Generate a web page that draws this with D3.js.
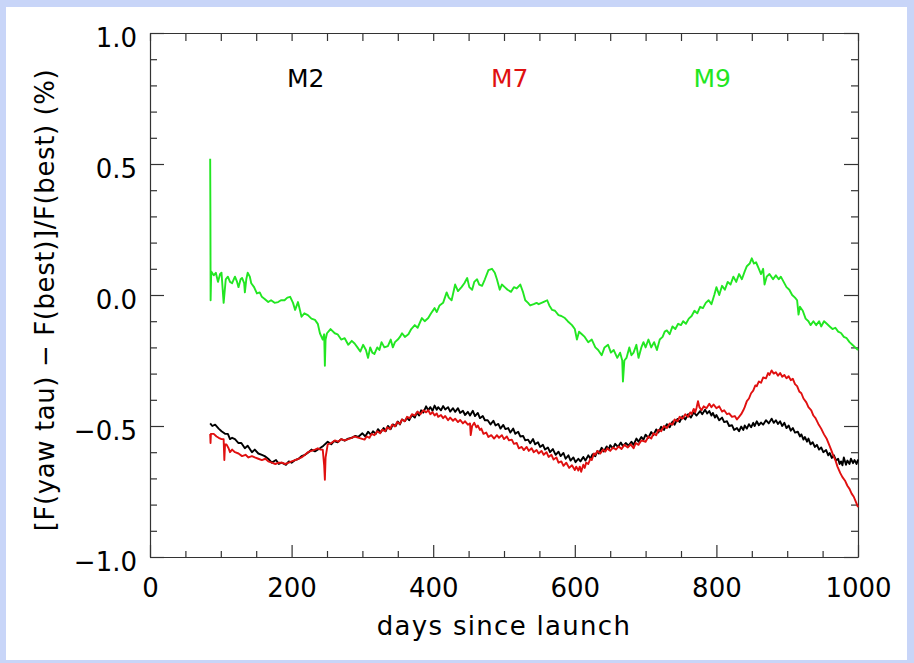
<!DOCTYPE html>
<html>
<head>
<meta charset="utf-8">
<script src="https://cdn.jsdelivr.net/npm/d3@7"></script>
<style>
  body { margin: 0; background: #c8d5f8; }
  svg { display: block; }
  .axis path, .axis line { stroke: #333; stroke-width: 1.2; }
  .axis text { font-family: "DejaVu Sans", sans-serif; font-size: 26px; fill: #000; }
</style>
</head>
<body>
<div id="chart-area"></div>
<script>
// days since launch, percent difference
const m9 = [[85,0.52],[85.3,0.32],[85.6,-0.02],[86.5,0.09],[90,0.075],[93,0.085],[96,0.05],[99,0.08],[101,0.085],[104,-0.03],[107,0.06],[110,0.07],[113,0.05],[116,0.045],[120,0.07],[123,0.05],[125,0.03],[128,0.06],[130,0.065],[133,0.045],[134,0.01],[136,0.06],[138,0.085],[141,0.07],[143,0.045],[147,0.03],[151,0.006],[155,0.01],[158,-0.007],[162,-0.015],[167,-0.027],[171,-0.02],[176,-0.03],[181,-0.027],[185,-0.02],[190,-0.02],[194,-0.01],[198,-0.007],[202,-0.03],[205,-0.057],[209,-0.027],[212,-0.06],[214,-0.083],[218,-0.07],[223,-0.077],[228,-0.09],[233,-0.095],[237,-0.11],[240,-0.146],[244,-0.17],[246,-0.15],[247,-0.27],[248,-0.17],[250,-0.146],[255,-0.13],[261,-0.146],[265,-0.15],[270,-0.17],[275,-0.165],[280,-0.19],[285,-0.175],[289,-0.185],[293,-0.2],[297,-0.216],[301,-0.19],[305,-0.21],[308,-0.24],[311,-0.2],[314,-0.22],[317,-0.225],[321,-0.2],[324,-0.21],[327,-0.18],[331,-0.2],[336,-0.195],[340,-0.17],[343,-0.2],[346,-0.18],[350,-0.17],[353,-0.16],[356,-0.146],[360,-0.16],[365,-0.15],[369,-0.13],[374,-0.115],[378,-0.125],[384,-0.088],[388,-0.1],[393,-0.088],[397,-0.07],[402,-0.05],[405,-0.065],[409,-0.04],[414,-0.03],[419,0.01],[422,-0.01],[426,-0.02],[431,0.04],[435,0.015],[440,0.03],[444,0.045],[448,0.065],[451,0.03],[455,0.02],[458,0.05],[462,0.06],[465,0.04],[469,0.035],[473,0.06],[478,0.095],[483,0.1],[487,0.085],[490,0.06],[494,0.02],[497,0.04],[501,0.03],[505,0.02],[510,0.012],[514,0.03],[518,0.025],[523,0.04],[527,0.01],[530,-0.02],[534,-0.03],[537,-0.04],[542,-0.035],[546,-0.03],[549,-0.035],[553,-0.03],[557,-0.025],[561,-0.02],[564,-0.04],[568,-0.057],[572,-0.06],[577,-0.077],[581,-0.08],[586,-0.088],[590,-0.1],[596,-0.115],[600,-0.13],[603,-0.17],[606,-0.14],[610,-0.15],[614,-0.16],[619,-0.18],[624,-0.17],[629,-0.2],[633,-0.21],[638,-0.23],[642,-0.2],[647,-0.19],[651,-0.22],[655,-0.21],[660,-0.24],[664,-0.22],[667,-0.25],[668,-0.33],[670,-0.25],[673,-0.24],[677,-0.2],[680,-0.23],[683,-0.22],[687,-0.19],[690,-0.24],[694,-0.2],[697,-0.18],[700,-0.2],[704,-0.17],[708,-0.2],[712,-0.18],[716,-0.21],[720,-0.17],[724,-0.16],[727,-0.14],[730,-0.135],[734,-0.15],[738,-0.12],[742,-0.13],[746,-0.11],[750,-0.115],[753,-0.1],[757,-0.11],[761,-0.09],[765,-0.08],[769,-0.06],[773,-0.07],[777,-0.045],[781,-0.05],[785,-0.03],[789,-0.02],[793,-0.035],[797,0.0],[800,0.03],[804,0.0],[808,0.035],[812,0.02],[816,0.05],[820,0.04],[824,0.07],[828,0.05],[832,0.08],[836,0.06],[840,0.09],[843,0.11],[847,0.12],[850,0.14],[853,0.12],[856,0.125],[860,0.1],[863,0.08],[866,0.1],[868,0.04],[871,0.07],[875,0.08],[880,0.06],[884,0.075],[888,0.06],[891,0.07],[895,0.05],[899,0.03],[903,0.02],[907,0.0],[911,-0.01],[914,-0.02],[916,-0.075],[918,-0.045],[922,-0.06],[926,-0.09],[930,-0.1],[933,-0.115],[937,-0.1],[941,-0.115],[945,-0.1],[948,-0.12],[952,-0.1],[956,-0.11],[960,-0.12],[964,-0.13],[968,-0.125],[972,-0.14],[976,-0.145],[980,-0.16],[984,-0.165],[988,-0.18],[992,-0.19],[996,-0.2],[1000,-0.21]];

const m2 = [[85,-0.49],[88,-0.5],[92,-0.495],[97,-0.51],[101,-0.52],[106,-0.53],[110,-0.53],[113,-0.55],[116,-0.545],[120,-0.55],[125,-0.565],[129,-0.565],[134,-0.585],[138,-0.575],[144,-0.6],[148,-0.59],[153,-0.605],[158,-0.61],[162,-0.615],[167,-0.625],[172,-0.64],[178,-0.63],[182,-0.645],[186,-0.64],[192,-0.648],[196,-0.635],[200,-0.64],[205,-0.63],[210,-0.625],[214,-0.615],[219,-0.61],[224,-0.6],[228,-0.59],[233,-0.597],[240,-0.585],[245,-0.575],[251,-0.56],[256,-0.57],[260,-0.558],[265,-0.562],[270,-0.55],[275,-0.556],[280,-0.548],[285,-0.545],[290,-0.538],[294,-0.542],[300,-0.528],[304,-0.54],[308,-0.522],[312,-0.533],[315,-0.52],[319,-0.53],[322,-0.512],[326,-0.524],[330,-0.508],[333,-0.52],[336,-0.5],[340,-0.512],[343,-0.494],[347,-0.5],[350,-0.483],[353,-0.494],[356,-0.475],[360,-0.482],[363,-0.468],[366,-0.478],[370,-0.458],[374,-0.468],[377,-0.448],[380,-0.46],[383,-0.44],[386,-0.449],[390,-0.425],[393,-0.44],[396,-0.428],[399,-0.442],[402,-0.422],[405,-0.438],[407,-0.428],[411,-0.44],[414,-0.424],[417,-0.437],[421,-0.428],[424,-0.445],[428,-0.432],[431,-0.446],[435,-0.432],[438,-0.45],[442,-0.442],[445,-0.458],[449,-0.446],[452,-0.46],[456,-0.442],[459,-0.462],[463,-0.45],[466,-0.47],[470,-0.462],[473,-0.478],[477,-0.478],[481,-0.494],[485,-0.48],[488,-0.498],[492,-0.492],[495,-0.51],[499,-0.496],[502,-0.512],[506,-0.508],[509,-0.525],[513,-0.51],[516,-0.53],[520,-0.522],[523,-0.54],[527,-0.538],[530,-0.555],[534,-0.552],[537,-0.566],[541,-0.55],[544,-0.57],[548,-0.562],[551,-0.58],[555,-0.572],[558,-0.59],[562,-0.582],[565,-0.6],[569,-0.588],[573,-0.61],[577,-0.598],[580,-0.615],[584,-0.603],[587,-0.625],[591,-0.612],[594,-0.632],[598,-0.62],[601,-0.638],[605,-0.625],[608,-0.635],[612,-0.618],[615,-0.632],[619,-0.612],[622,-0.625],[625,-0.608],[629,-0.615],[632,-0.595],[634,-0.605],[638,-0.583],[641,-0.597],[645,-0.578],[648,-0.59],[650,-0.573],[654,-0.585],[657,-0.568],[661,-0.58],[665,-0.563],[668,-0.577],[672,-0.565],[676,-0.575],[680,-0.56],[683,-0.572],[687,-0.548],[690,-0.56],[694,-0.542],[697,-0.552],[700,-0.533],[704,-0.545],[708,-0.523],[711,-0.535],[715,-0.513],[718,-0.525],[722,-0.503],[726,-0.515],[730,-0.493],[734,-0.505],[738,-0.483],[741,-0.495],[745,-0.473],[748,-0.485],[752,-0.463],[756,-0.475],[760,-0.455],[764,-0.468],[768,-0.448],[772,-0.46],[777,-0.443],[780,-0.455],[784,-0.438],[787,-0.452],[790,-0.443],[793,-0.46],[795,-0.45],[798,-0.468],[800,-0.458],[804,-0.478],[808,-0.468],[811,-0.485],[815,-0.482],[818,-0.5],[822,-0.497],[825,-0.515],[829,-0.508],[832,-0.52],[835,-0.502],[838,-0.515],[840,-0.498],[843,-0.51],[846,-0.493],[849,-0.505],[852,-0.488],[854,-0.5],[857,-0.482],[860,-0.497],[863,-0.487],[866,-0.495],[870,-0.478],[874,-0.49],[878,-0.472],[881,-0.488],[884,-0.478],[887,-0.492],[890,-0.482],[893,-0.5],[896,-0.488],[899,-0.508],[902,-0.498],[905,-0.518],[908,-0.508],[911,-0.525],[915,-0.522],[918,-0.54],[920,-0.532],[923,-0.552],[925,-0.542],[928,-0.56],[930,-0.548],[933,-0.57],[936,-0.562],[939,-0.58],[942,-0.572],[945,-0.59],[948,-0.582],[951,-0.6],[955,-0.592],[958,-0.612],[960,-0.603],[963,-0.622],[966,-0.612],[969,-0.632],[972,-0.625],[974,-0.645],[976,-0.635],[978,-0.65],[980,-0.62],[983,-0.648],[985,-0.632],[988,-0.645],[990,-0.625],[993,-0.642],[995,-0.63],[998,-0.645],[1000,-0.628]];

const m7 = [[85,-0.53],[85.5,-0.565],[86,-0.53],[90,-0.53],[94,-0.54],[97,-0.545],[101,-0.55],[104,-0.55],[105,-0.63],[106,-0.57],[108,-0.57],[111,-0.585],[113,-0.6],[116,-0.59],[120,-0.6],[125,-0.605],[130,-0.615],[135,-0.61],[139,-0.62],[144,-0.615],[148,-0.62],[153,-0.625],[158,-0.63],[163,-0.625],[167,-0.635],[172,-0.64],[177,-0.645],[182,-0.64],[186,-0.64],[191,-0.645],[196,-0.64],[200,-0.635],[205,-0.63],[210,-0.625],[214,-0.62],[219,-0.61],[223,-0.6],[228,-0.595],[233,-0.59],[237,-0.585],[241,-0.59],[244,-0.59],[246,-0.65],[247,-0.705],[248,-0.62],[251,-0.57],[256,-0.565],[261,-0.555],[266,-0.56],[270,-0.55],[275,-0.555],[280,-0.55],[285,-0.545],[289,-0.54],[295,-0.545],[303,-0.552],[306,-0.54],[310,-0.545],[313,-0.53],[317,-0.535],[321,-0.52],[325,-0.528],[328,-0.514],[332,-0.52],[335,-0.505],[339,-0.512],[342,-0.495],[346,-0.502],[349,-0.485],[353,-0.492],[356,-0.475],[360,-0.482],[363,-0.465],[367,-0.47],[370,-0.455],[374,-0.46],[378,-0.445],[382,-0.455],[386,-0.44],[390,-0.448],[393,-0.44],[396,-0.455],[399,-0.447],[402,-0.46],[405,-0.452],[407,-0.465],[411,-0.458],[414,-0.47],[417,-0.462],[421,-0.478],[424,-0.468],[428,-0.48],[431,-0.472],[435,-0.485],[438,-0.477],[442,-0.49],[445,-0.482],[449,-0.495],[452,-0.49],[453,-0.535],[455,-0.5],[458,-0.488],[461,-0.505],[463,-0.498],[466,-0.515],[468,-0.51],[471,-0.53],[475,-0.525],[478,-0.542],[482,-0.535],[486,-0.548],[490,-0.535],[493,-0.545],[497,-0.535],[500,-0.55],[504,-0.54],[507,-0.555],[511,-0.552],[514,-0.568],[518,-0.565],[521,-0.585],[525,-0.58],[528,-0.592],[532,-0.58],[535,-0.595],[539,-0.585],[542,-0.6],[546,-0.592],[549,-0.605],[553,-0.595],[556,-0.61],[560,-0.6],[563,-0.618],[567,-0.61],[570,-0.628],[574,-0.62],[577,-0.64],[581,-0.635],[584,-0.652],[588,-0.64],[592,-0.66],[596,-0.65],[600,-0.668],[602,-0.655],[605,-0.67],[607,-0.655],[609,-0.675],[612,-0.648],[614,-0.66],[616,-0.64],[619,-0.645],[622,-0.625],[624,-0.63],[627,-0.605],[629,-0.61],[632,-0.595],[636,-0.605],[640,-0.59],[643,-0.598],[646,-0.585],[650,-0.595],[654,-0.582],[658,-0.59],[662,-0.578],[666,-0.588],[670,-0.572],[675,-0.582],[679,-0.57],[683,-0.585],[686,-0.565],[690,-0.572],[694,-0.555],[700,-0.56],[704,-0.54],[708,-0.548],[711,-0.528],[715,-0.535],[718,-0.515],[722,-0.52],[726,-0.5],[730,-0.508],[734,-0.49],[738,-0.495],[741,-0.475],[745,-0.482],[748,-0.465],[752,-0.472],[756,-0.455],[760,-0.465],[763,-0.448],[765,-0.455],[768,-0.435],[770,-0.448],[772,-0.43],[774,-0.405],[776,-0.428],[779,-0.44],[782,-0.425],[786,-0.432],[790,-0.415],[793,-0.428],[796,-0.418],[800,-0.432],[804,-0.425],[808,-0.445],[811,-0.44],[815,-0.455],[818,-0.452],[822,-0.465],[826,-0.462],[829,-0.475],[832,-0.465],[835,-0.455],[838,-0.44],[840,-0.428],[843,-0.405],[846,-0.395],[849,-0.375],[852,-0.365],[855,-0.345],[857,-0.348],[860,-0.33],[863,-0.335],[866,-0.315],[870,-0.318],[873,-0.298],[875,-0.305],[878,-0.288],[881,-0.3],[884,-0.295],[887,-0.308],[890,-0.298],[893,-0.312],[896,-0.305],[899,-0.318],[902,-0.31],[905,-0.325],[908,-0.32],[911,-0.34],[914,-0.348],[917,-0.368],[920,-0.375],[923,-0.395],[927,-0.41],[930,-0.428],[934,-0.44],[937,-0.46],[940,-0.47],[944,-0.492],[948,-0.51],[952,-0.532],[956,-0.55],[959,-0.57],[962,-0.59],[965,-0.612],[968,-0.63],[971,-0.655],[975,-0.68],[978,-0.695],[982,-0.71],[985,-0.728],[988,-0.74],[991,-0.758],[994,-0.77],[997,-0.79],[1000,-0.81]];

const seriesNames = ["M2", "M7", "M9"];
const seriesColors = ["#000000", "#e01010", "#22e622"];
const labelDays = [220, 508, 794];

const xMajor = [0, 200, 400, 600, 800, 1000];
const xMinor = [50, 100, 150, 250, 300, 350, 450, 500, 550, 650, 700, 750, 850, 900, 950];
const yMajor = [-1.0, -0.5, 0.0, 0.5, 1.0];
const yMinor = [-0.9, -0.8, -0.7, -0.6, -0.4, -0.3, -0.2, -0.1, 0.1, 0.2, 0.3, 0.4, 0.6, 0.7, 0.8, 0.9];

const margin = { left: 150, right: 56, top: 33, bottom: 106 };
const width = 914 - margin.left - margin.right;
const height = 663 - margin.top - margin.bottom;

const svg = d3.select("#chart-area")
  .append("svg")
    .attr("width", 914)
    .attr("height", 663);

svg.append("rect")
  .attr("x", 6).attr("y", 7)
  .attr("width", 901).attr("height", 653)
  .attr("fill", "#fff");

const g = svg.append("g")
  .attr("transform", "translate(" + margin.left + "," + margin.top + ")");

const x = d3.scaleLinear().domain([0, 1000]).range([0, width]);
const y = d3.scaleLinear().domain([-1, 1]).range([height, 0]);

// axes, ticks pointing inward on all four sides
g.append("g").attr("class", "axis")
  .attr("transform", "translate(0," + height + ")")
  .call(d3.axisBottom(x).tickValues(xMajor).tickSize(-12).tickSizeOuter(0)
    .tickPadding(22).tickFormat(d3.format("d")));
g.append("g").attr("class", "axis")
  .attr("transform", "translate(0," + height + ")")
  .call(d3.axisBottom(x).tickValues(xMinor).tickSize(-6).tickSizeOuter(0).tickFormat(""))
  .select(".domain").remove();
g.append("g").attr("class", "axis")
  .call(d3.axisTop(x).tickValues(xMajor.concat(xMinor)).tickSize(-8).tickSizeOuter(0).tickFormat(""));

g.append("g").attr("class", "axis")
  .call(d3.axisLeft(y).tickValues(yMajor).tickSize(-14).tickSizeOuter(0)
    .tickPadding(13).tickFormat(d3.format(".1f")))
  .selectAll("text").attr("dy", "0.5em");
g.append("g").attr("class", "axis")
  .call(d3.axisLeft(y).tickValues(yMinor).tickSize(-7).tickSizeOuter(0).tickFormat(""))
  .select(".domain").remove();
g.append("g").attr("class", "axis")
  .attr("transform", "translate(" + width + ",0)")
  .call(d3.axisRight(y).tickValues(yMajor).tickSize(-14).tickSizeOuter(0).tickFormat(""));
g.append("g").attr("class", "axis")
  .attr("transform", "translate(" + width + ",0)")
  .call(d3.axisRight(y).tickValues(yMinor).tickSize(-7).tickSizeOuter(0).tickFormat(""))
  .select(".domain").remove();

const line = d3.line()
  .x((d) => { return x(d[0]); })
  .y((d) => { return y(d[1]); });

// green first, then black, red on top
[[m9, 2], [m2, 0], [m7, 1]].forEach((s) => {
  g.append("path")
    .datum(s[0])
    .attr("fill", "none")
    .attr("stroke", seriesColors[s[1]])
    .attr("stroke-width", 1.9)
    .attr("stroke-linejoin", "round")
    .attr("d", line);
});

seriesNames.forEach((n, i) => {
  g.append("text")
    .attr("x", x(labelDays[i]))
    .attr("y", 54)
    .attr("text-anchor", "middle")
    .attr("font-family", "DejaVu Sans, sans-serif")
    .attr("font-size", "25px")
    .attr("fill", seriesColors[i])
    .text(n);
});

g.append("text")
  .attr("x", 354)
  .attr("y", height + 78)
  .attr("text-anchor", "middle")
  .attr("font-family", "DejaVu Sans, sans-serif")
  .attr("font-size", "26px")
  .attr("letter-spacing", "1.3px")
  .text("days since launch");

g.append("text")
  .attr("transform", "translate(" + (54 - margin.left) + "," + (300 - margin.top) + ") rotate(-90)")
  .attr("text-anchor", "middle")
  .attr("font-family", "DejaVu Sans, sans-serif")
  .attr("font-size", "26px")
  .attr("letter-spacing", "0.6px")
  .text("[F(yaw tau) \u2212 F(best)]/F(best) (%)");
</script>
</body>
</html>
